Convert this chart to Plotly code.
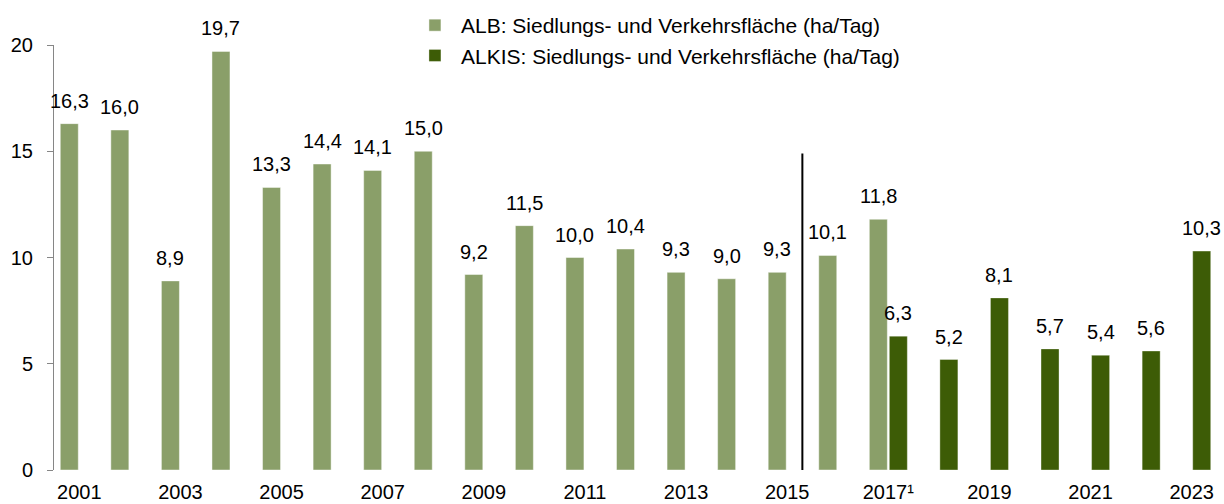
import plotly.graph_objects as go

# Flächenneuinanspruchnahme in ha/Tag
years = [str(y) for y in range(2001, 2024)]
alb_years = [str(y) for y in range(2001, 2018)]
alb_values = [16.3, 16.0, 8.9, 19.7, 13.3, 14.4, 14.1, 15.0, 9.2, 11.5,
              10.0, 10.4, 9.3, 9.0, 9.3, 10.1, 11.8]
alkis_years = [str(y) for y in range(2017, 2024)]
alkis_values = [6.3, 5.2, 8.1, 5.7, 5.4, 5.6, 10.3]

tick_years = [str(y) for y in range(2001, 2024, 2)]
tick_labels = ["2001", "2003", "2005", "2007", "2009", "2011", "2013",
               "2015", "2017¹", "2019", "2021", "2023"]

series_names = ["ALB: Siedlungs- und Verkehrsfläche (ha/Tag)",
                "ALKIS: Siedlungs- und Verkehrsfläche (ha/Tag)"]

FONT = "Liberation Sans, Arial, sans-serif"
ALB_COLOR = "#8A9F69"
ALKIS_COLOR = "#3D5C06"

fig = go.Figure()
fig.add_trace(go.Bar(
    x=alb_years, y=alb_values, name=series_names[0],
    marker=dict(color=ALB_COLOR, line=dict(color="rgba(255,255,255,0.45)", width=1)),
    cliponaxis=False,
))
fig.add_trace(go.Bar(
    x=alkis_years, y=alkis_values, name=series_names[1],
    marker=dict(color=ALKIS_COLOR, line=dict(color="rgba(255,255,255,0.35)", width=1)),
    cliponaxis=False,
))


def fmt(v):
    return f"{v:.1f}".replace(".", ",")


# Value labels above each bar (grouped bars sit left / right of the category centre)
for xs, vs, shift in ((alb_years, alb_values, -10), (alkis_years, alkis_values, 10)):
    for x, v in zip(xs, vs):
        fig.add_annotation(
            x=years.index(x), y=v, text=fmt(v), showarrow=False,
            xref="x", yref="y", xanchor="center", yanchor="bottom",
            xshift=shift, yshift=10,
            font=dict(family=FONT, size=20, color="#000000"),
        )

# Separator between the 2015 and 2016 bars
sep_x = years.index("2016") - 0.7
fig.add_shape(type="line", xref="x", yref="y", x0=sep_x, x1=sep_x,
              y0=-0.05, y1=14.9, line=dict(color="#000000", width=2))

fig.update_layout(
    width=1224, height=504,
    margin=dict(l=54, r=7, t=45, b=34, autoexpand=False),
    paper_bgcolor="white", plot_bgcolor="white",
    barmode="group", bargap=0.209, bargroupgap=0.1,
    font=dict(family=FONT, size=20, color="#000000"),
    legend=dict(
        x=0.3052, xanchor="left", y=1.0 - 5 / 504, yanchor="top",
        yref="container", orientation="v", traceorder="normal",
        itemwidth=42,
        font=dict(family=FONT, size=21, color="#000000"),
        bgcolor="rgba(0,0,0,0)", itemclick=False,
    ),
    xaxis=dict(
        type="category", categoryorder="array", categoryarray=years,
        range=[-0.5, len(years) - 0.5],
        tickmode="array", tickvals=tick_years, ticktext=tick_labels,
        showline=False, ticks="", showgrid=False, zeroline=False,
        tickfont=dict(family=FONT, size=20, color="#000000"),
        ticklabelstandoff=8,
    ),
    yaxis=dict(
        range=[0, 20], tickvals=[0, 5, 10, 15, 20],
        showline=True, linecolor="#868686", linewidth=1,
        ticks="outside", ticklen=6, tickcolor="#868686",
        showgrid=False, zeroline=False,
        tickfont=dict(family=FONT, size=20, color="#000000"),
        ticklabelstandoff=10,
    ),
)

fig.write_html("out.html")
